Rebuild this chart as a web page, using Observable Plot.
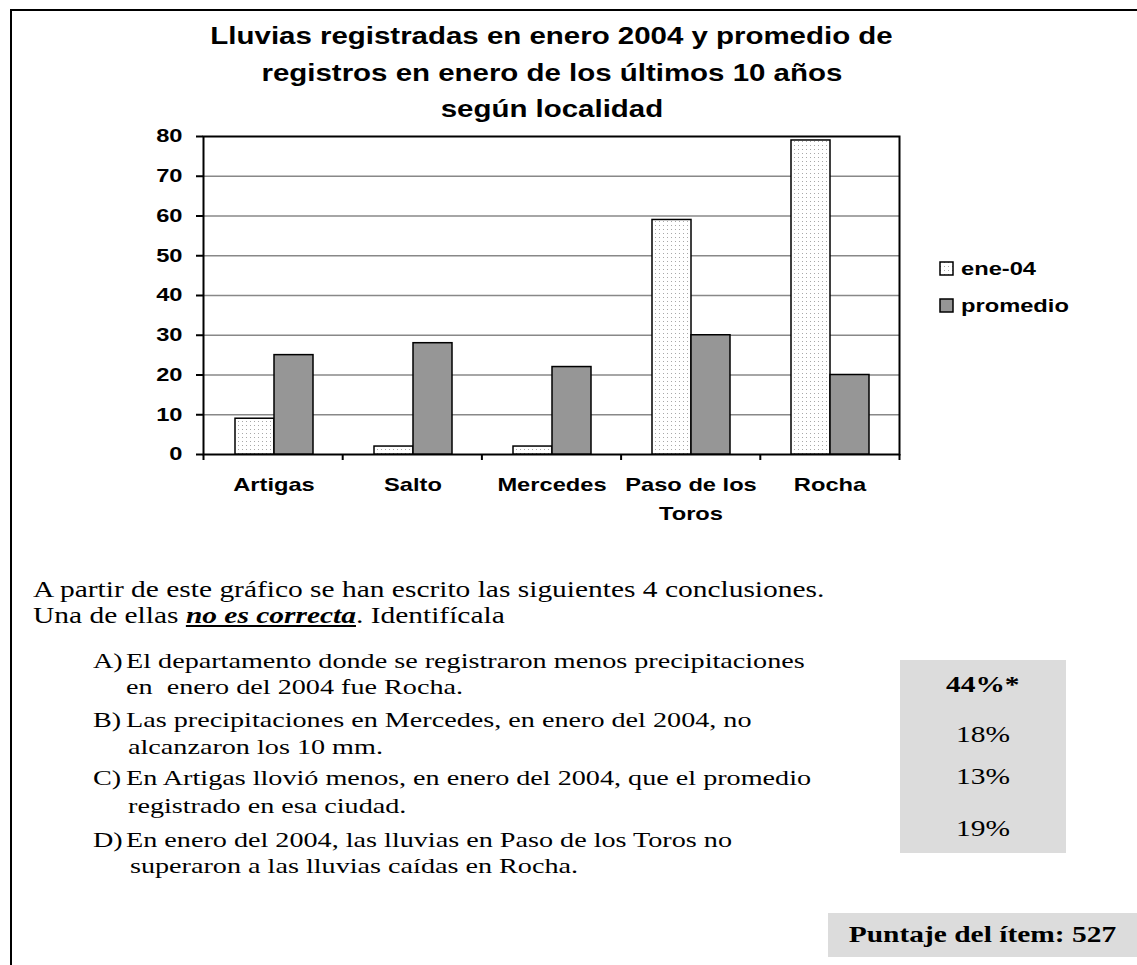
<!DOCTYPE html>
<html>
<head>
<meta charset="utf-8">
<script src="https://cdn.jsdelivr.net/npm/d3@7"></script>
<script src="https://cdn.jsdelivr.net/npm/@observablehq/plot@0.6"></script>
<style>
  html, body { margin: 0; padding: 0; background: #fff; overflow: hidden; }
  #page { position: relative; width: 1137px; height: 965px; overflow: hidden; background: #fff; }
  .border { position: absolute; left: 10px; top: 9px; width: 1300px; height: 1200px;
            border-left: 2px solid #000; border-top: 2px solid #000; }
  .layer { position: absolute; left: 0; top: 0; }
  .sx { display: inline-block; transform: scaleX(1.28); transform-origin: 0 50%; white-space: pre; }
  .sxc { display: inline-block; transform: scaleX(1.28); transform-origin: 50% 50%; white-space: pre; }
  .title { position: absolute; left: 202px; width: 700px; top: 18px; text-align: center;
           font: bold 23px "Liberation Sans", Arial, sans-serif; line-height: 36.5px; color: #000; }
  .legend { position: absolute; left: 939px; top: 250px;
            font: bold 18.5px "Liberation Sans", Arial, sans-serif; color: #000; }
  .legend div { height: 37px; line-height: 37px; display: flex; align-items: center; }
  .legend svg { margin-right: 7px; }
  .txt { position: absolute; font-family: "Liberation Serif", "Times New Roman", serif; font-size: 22px;
         white-space: pre; line-height: 26px; color: #000; }
  .intro { font-size: 23px; }
  .box { position: absolute; background: #dcdcdc; }
  .pct { position: absolute; left: 900px; width: 166px; text-align: center;
         font-family: "Liberation Serif", "Times New Roman", serif; font-size: 23px; line-height: 26px; }
</style>
</head>
<body>
<svg width="0" height="0" style="position:absolute">
  <defs>
    <pattern id="dots" width="4" height="4" patternUnits="userSpaceOnUse">
      <rect width="4" height="4" fill="#ffffff"></rect>
      <rect x="1" y="1" width="1" height="1" fill="#a8a8a8"></rect>
    </pattern>
  </defs>
</svg>
<div id="page">
  <div class="border"></div>
  <div id="bg" class="layer"></div>
  <div id="fg" class="layer"></div>
  <div class="title" id="title"></div>
  <div class="legend" id="legend"></div>
  <div id="text"></div>
</div>
<script>
// ---------- data ----------
const titleLines = ["Lluvias registradas en enero 2004 y promedio de", "registros en enero de los últimos 10 años", "según localidad"];
const categories = ["Artigas", "Salto", "Mercedes", "Paso de los Toros", "Rocha"];
const categoryLabels = ["Artigas", "Salto", "Mercedes", "Paso de los\nToros", "Rocha"];
const series = ["ene-04", "promedio"];
const ene04 = [9, 2, 2, 59, 79];
const promedio = [25, 28, 22, 30, 20];
const yTicks = [0, 10, 20, 30, 40, 50, 60, 70, 80];
const seriesFills = ["url(#dots)", "#969696"];

const data = categories.flatMap((c, i) => [
  {cat: c, serie: series[0], value: ene04[i]},
  {cat: c, serie: series[1], value: promedio[i]}
]);

// ---------- layout ----------
const SX = 1.28; // the reference's type is drawn horizontally widened
const W = 1137, H = 540;
const M = {marginLeft: 203, marginRight: 238, marginTop: 136, marginBottom: 86};
const fontStyle = {fontFamily: "Liberation Sans, Arial, sans-serif", fontSize: "18.5px", fontWeight: "bold",
  color: "#000", background: "transparent", overflow: "visible"};

// widen each text horizontally about its own anchor point
function widenText(svg) {
  svg.querySelectorAll("text").forEach(t => {
    const xa = t.getAttribute("x");
    let x = 0;
    if (xa != null && /^-?[\d.]+$/.test(xa.trim())) { x = +xa; t.removeAttribute("x"); }
    const tr = t.getAttribute("transform") || "";
    t.setAttribute("transform", `${tr} translate(${x},0) scale(${SX},1)`);
  });
  return svg;
}

// background: grid, frame, y axis, category separator ticks
const bg = Plot.plot({
  width: W, height: H, ...M, style: fontStyle,
  x: {domain: [0, categories.length], axis: null},
  y: {domain: [0, 80], axis: null},
  marks: [
    Plot.ruleY(yTicks.filter(d => d > 0 && d < 80), {stroke: "#888888", strokeWidth: 1.5}),
    Plot.frame({stroke: "#000", strokeWidth: 2}),
    Plot.axisY({ticks: yTicks, tickSize: 7, tickPadding: 14, strokeWidth: 2, label: null, fill: "#000"}),
    Plot.axisX({ticks: d3.range(categories.length + 1), tickSize: 6, strokeWidth: 2, tickFormat: () => "", label: null})
  ]
});
document.getElementById("bg").appendChild(widenText(bg));

// foreground: grouped bars and category labels
const fg = Plot.plot({
  width: W, height: H, ...M, style: fontStyle,
  fx: {domain: categories, padding: 0, axis: null},
  x: {domain: series, paddingInner: 0, paddingOuter: 0.74, axis: null},
  y: {domain: [0, 80], axis: null},
  color: {domain: series, range: seriesFills},
  marks: [
    Plot.barY(data, {fx: "cat", x: "serie", y: "value", fill: "serie", stroke: "#000", strokeWidth: 1.5}),
    Plot.axisFx({anchor: "bottom", tickSize: 0, tickPadding: 16, label: null, lineHeight: 1.58, fill: "#000",
      tickFormat: d => categoryLabels[categories.indexOf(d)]})
  ]
});
document.getElementById("fg").appendChild(widenText(fg));

// title
document.getElementById("title").innerHTML = titleLines.map(l => `<div><span class="sxc">${l}</span></div>`).join("");

// legend
const legend = document.getElementById("legend");
series.forEach((s, i) => {
  const row = document.createElement("div");
  row.innerHTML = `<svg width="15" height="15"><rect x="1" y="1" width="13" height="13" fill="${seriesFills[i]}" stroke="#000" stroke-width="1.5"></rect></svg><span class="sx">${s}</span>`;
  legend.appendChild(row);
});

// ---------- text below the chart ----------
const introLines = [
  {y: 590, html: "A partir de este gráfico se han escrito las siguientes 4 conclusiones."},
  {y: 616, html: "Una de ellas <b><i><u>no es correcta</u></i></b>. Identifícala"}
];
const options = [
  {label: "A)", lines: [{y: 661, x: 126, html: "El departamento donde se registraron menos precipitaciones"}, {y: 687, x: 126, html: "en  enero del 2004 fue Rocha."}]},
  {label: "B)", lines: [{y: 720, x: 126, html: "Las precipitaciones en Mercedes, en enero del 2004, no"}, {y: 747, x: 128, html: "alcanzaron los 10 mm."}]},
  {label: "C)", lines: [{y: 778, x: 126, html: "En Artigas llovió menos, en enero del 2004, que el promedio"}, {y: 806, x: 128, html: "registrado en esa ciudad."}]},
  {label: "D)", lines: [{y: 840, x: 126, html: "En enero del 2004, las lluvias en Paso de los Toros no"}, {y: 866, x: 130, html: "superaron a las lluvias caídas en Rocha."}]}
];
const percents = [{y: 685, html: "<b>44%*</b>"}, {y: 735, html: "18%"}, {y: 777, html: "13%"}, {y: 829, html: "19%"}];

const text = document.getElementById("text");
text.insertAdjacentHTML("beforeend", `<div class="box" style="left:900px;top:660px;width:166px;height:193px"></div>`);
text.insertAdjacentHTML("beforeend", `<div class="box" style="left:828px;top:913px;width:320px;height:44px"></div>`);
introLines.forEach(t => text.insertAdjacentHTML("beforeend", `<div class="txt intro" style="left:33px;top:${t.y - 13}px"><span class="sx">${t.html}</span></div>`));
options.forEach(o => {
  text.insertAdjacentHTML("beforeend", `<div class="txt" style="left:93px;top:${o.lines[0].y - 13}px"><span class="sx">${o.label}</span></div>`);
  o.lines.forEach(t => text.insertAdjacentHTML("beforeend", `<div class="txt" style="left:${t.x}px;top:${t.y - 13}px"><span class="sx">${t.html}</span></div>`));
});
percents.forEach(p => text.insertAdjacentHTML("beforeend", `<div class="pct" style="top:${p.y - 13}px"><span class="sxc">${p.html}</span></div>`));
text.insertAdjacentHTML("beforeend", `<div class="txt" style="left:828px;width:309px;text-align:center;top:921px;line-height:28px;font-weight:bold;font-size:23px"><span class="sxc">Puntaje del ítem: 527</span></div>`);
</script>
</body>
</html>
